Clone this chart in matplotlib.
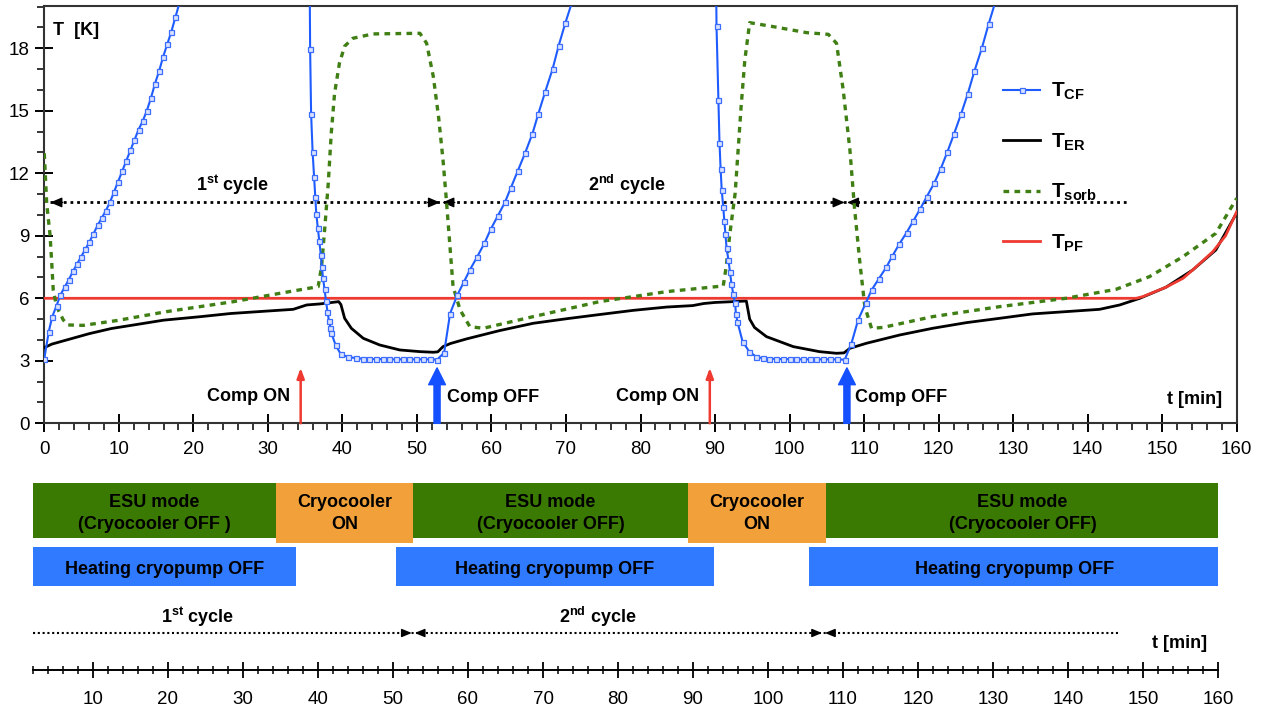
import numpy as np
import matplotlib.pyplot as plt
from matplotlib.ticker import MultipleLocator, FixedLocator

plt.rcParams['font.family'] = ['Liberation Sans', 'DejaVu Sans']
plt.rcParams['mathtext.fontset'] = 'custom'
plt.rcParams['mathtext.rm'] = 'Liberation Sans:bold'
plt.rcParams['mathtext.bf'] = 'Liberation Sans:bold'
plt.rcParams['mathtext.it'] = 'Liberation Sans:bold'

# ---- temperatures (t in min, T in K) ----
# cold finger: rise, fall (off the top in between), plateau, rise ...
t_cf = [0.0, 0.6, 1.05, 1.65, 2.15, 2.75, 3.3, 3.85, 4.4, 4.95, 5.5, 6.05, 6.6, 7.15,
        7.7, 8.25, 8.8, 9.35, 9.9, 10.45, 11.0, 11.55, 12.1, 12.65, 13.2, 13.75, 14.3,
        14.85, 15.4, 15.95, 16.5, 17.05, 17.6, 18.15, 18.7,
        35.62, 35.67, 35.8, 36.0, 36.2, 36.35, 36.5, 36.7, 36.9, 37.1, 37.25, 37.4, 37.6,
        37.8, 38.0, 38.2, 38.4, 38.5, 39.1, 39.8, 40.8, 41.8, 42.7, 43.6, 44.5, 45.4,
        46.3, 47.2, 48.1, 49.0, 49.9, 50.8, 51.8, 52.7,
        53.65, 54.45, 55.4, 56.3, 57.1, 58.1, 59.05, 59.9, 60.85, 61.8, 62.6, 63.5, 64.5,
        65.5, 66.3, 67.2, 68.2, 69.0, 69.9, 70.8, 71.6,
        90.15, 90.2, 90.45, 90.6, 90.75, 90.9, 91.1, 91.25, 91.4, 91.55, 91.8, 92.0, 92.2,
        92.45, 92.7, 92.8, 93.0, 93.7, 94.6, 95.5, 96.4, 97.3, 98.2, 99.1, 100.0, 100.9,
        101.8, 102.7, 103.6, 104.5, 105.4, 106.4, 107.4,
        108.3, 109.2, 110.2, 111.0, 112.0, 113.0, 113.8, 114.7, 115.7, 116.6, 117.5, 118.4,
        119.4, 120.3, 121.15, 122.05, 123.0, 123.9, 124.8, 125.8, 126.7, 127.6, 128.4]
T_cf = [3.1, 4.4, 5.1, 5.65, 6.15, 6.55, 6.9, 7.3, 7.65, 8.0, 8.35, 8.7, 9.1, 9.5,
        9.85, 10.2, 10.6, 11.1, 11.6, 12.1, 12.6, 13.1, 13.6, 14.1, 14.5, 15.0, 15.6,
        16.3, 16.9, 17.6, 18.2, 18.8, 19.5, 20.2, 20.9,
        20.6, 17.95, 14.87, 13.04, 11.83, 10.87, 10.03, 9.39, 8.75, 8.1, 7.5, 6.98, 6.43,
        5.87, 5.34, 4.91, 4.59, 4.35, 3.74, 3.31, 3.18, 3.13, 3.1, 3.09, 3.08, 3.08,
        3.07, 3.07, 3.07, 3.07, 3.07, 3.07, 3.07, 3.05,
        3.39, 5.27, 6.14, 6.78, 7.36, 8.0, 8.64, 9.31, 9.95, 10.6, 11.3, 12.1, 12.96,
        13.9, 14.87, 15.9, 17.0, 18.1, 19.2, 20.2, 21.2,
        21.0, 19.07, 15.52, 13.47, 12.19, 11.19, 10.38, 9.71, 9.07, 8.4, 7.84, 7.26, 6.71,
        6.19, 5.76, 5.27, 4.88, 3.92, 3.44, 3.2, 3.12, 3.1, 3.09, 3.08, 3.08, 3.07,
        3.07, 3.07, 3.07, 3.07, 3.07, 3.07, 3.05,
        3.83, 4.96, 5.76, 6.39, 6.95, 7.5, 8.03, 8.59, 9.15, 9.71, 10.27, 10.87,
        11.52, 12.23, 13.0, 13.87, 14.83, 15.8, 16.9, 18.0, 19.15, 20.2, 21.2]

t_er = [0, 1, 3, 6, 9, 12, 16, 21, 25, 30, 33.4, 35.2, 37, 39.5, 39.8, 40.3, 41.2, 42.8,
        45, 47.7, 50.4, 52.2, 52.8, 53.5, 54.5, 56.65, 61.1, 65.6, 70.1, 74.5, 79, 83.5,
        87, 88.5, 90, 94.2, 94.65, 95.3, 96.9, 100.5, 104, 106.3, 107.3, 108.1, 110.3,
        114.8, 119.2, 123.7, 128.2, 132.6, 137.1, 141.6, 144.3, 147, 150.5, 154.1, 157.2, 160]
T_er = [3.63, 3.8, 4.0, 4.3, 4.55, 4.72, 4.95, 5.12, 5.27, 5.39, 5.47, 5.68, 5.73, 5.84,
        5.7, 5.04, 4.56, 4.08, 3.76, 3.52, 3.44, 3.41, 3.43, 3.68, 3.83, 4.05, 4.45, 4.8,
        5.02, 5.22, 5.42, 5.58, 5.65, 5.75, 5.8, 5.87, 5.0, 4.6, 4.16, 3.68, 3.44, 3.36,
        3.38, 3.6, 3.84, 4.24, 4.56, 4.83, 5.04, 5.25, 5.36, 5.47, 5.68, 6.0, 6.53, 7.36,
        8.32, 10.1]

t_sorb = [0, 0.32, 0.77, 1.0, 1.2, 1.65, 2.55, 3.2, 5.2, 9.7, 16.4, 25.4, 32.1, 36.75,
          37.2, 37.65, 38.1, 38.5, 38.95, 39.6, 40.3, 41.4, 44.1, 50.4, 51.3, 52.2, 52.9,
          53.5, 53.95, 54.4, 54.85, 55.8, 57.1, 58.9, 65.6, 74.5, 83.5, 90.2, 91.1, 91.5,
          92.0, 92.7, 93.1, 93.5, 94.0, 94.65, 97.8, 102.3, 105.2, 106.3, 107.2, 108.1,
          108.7, 109.4, 110.1, 111.0, 112.5, 119.2, 128.2, 137.1, 143.8, 148.3, 152.8,
          157.2, 160]
T_sorb = [12.96, 10.56, 9.04, 7.68, 6.4, 5.6, 4.96, 4.72, 4.7, 4.93, 5.36, 5.84, 6.27,
          6.56, 7.52, 9.44, 11.5, 13.9, 15.84, 17.28, 18.1, 18.48, 18.69, 18.72, 18.24,
          16.64, 14.72, 12.64, 10.72, 8.64, 6.56, 5.44, 4.64, 4.56, 5.12, 5.84, 6.32, 6.56,
          6.59, 7.52, 9.12, 11.04, 13.12, 15.2, 17.44, 19.23, 19.04, 18.75, 18.67, 18.24,
          16.0, 13.12, 10.4, 7.84, 5.6, 4.56, 4.6, 5.12, 5.6, 6.0, 6.43, 7.04, 8.0, 9.12,
          10.8]

t_pf = [0, 146.5, 147.4, 150.5, 152.8, 154.1, 156.8, 158.5, 160]
T_pf = [6.0, 6.0, 6.08, 6.53, 6.96, 7.36, 8.24, 9.0, 10.15]

comp_on = [34.4, 89.3]
comp_off = [52.7, 107.7]
cycle_bounds = [0.8, 53.4, 107.7, 145.7]
cycle_level = 10.6

# ---- operating modes (bottom timeline) ----
mode_start = [2, 34.4, 52.7, 89.3, 107.7]
mode_end = [34.4, 52.7, 89.3, 107.7, 160.2]
mode_kind = ['esu', 'cryo', 'esu', 'cryo', 'esu']
mode_text = ['ESU mode\n(Cryocooler OFF )', 'Cryocooler\nON', 'ESU mode\n(Cryocooler OFF)',
             'Cryocooler\nON', 'ESU mode\n(Cryocooler OFF)']
heat_start = [2, 50.4, 105.5]
heat_end = [37.0, 92.8, 160.2]
bottom_cycle_bounds = [2, 52.7, 107.4, 146.8]

W, H = 1267, 708
fig = plt.figure(figsize=(W / 100, H / 100), dpi=100)

# ================= top: temperatures =================
ax = fig.add_axes([44.3 / W, 1 - 423.3 / H, (1236.7 - 44.3) / W, (423.3 - 6) / H])
ax.plot(t_er, T_er, color='black', lw=2, zorder=3, label=r'$\mathbf{T}_{\mathbf{ER}}$')
ax.plot(t_pf, T_pf, color='#ee3a30', lw=2, zorder=4, label=r'$\mathbf{T}_{\mathbf{PF}}$')
ax.plot(t_sorb, T_sorb, color='#3f7f14', lw=2.4, ls=(0, (1.7, 1.6)), zorder=5,
        label=r'$\mathbf{T}_{\mathbf{sorb}}$')
ax.plot(t_cf, T_cf, color='#1f5cff', lw=1.5, marker='s', ms=3.6, mfc='#d8e2ff',
        mec='#3d6dff', mew=0.9, zorder=6, label=r'$\mathbf{T}_{\mathbf{CF}}$')

ax.set_xlim(0, 160)
ax.set_ylim(0, 20.03)
ax.xaxis.set_major_locator(MultipleLocator(10))
ax.xaxis.set_minor_locator(MultipleLocator(2))
ax.yaxis.set_major_locator(MultipleLocator(3))
ax.yaxis.set_minor_locator(MultipleLocator(1))
ax.tick_params(which='major', direction='inout', length=13, width=1.4, labelsize=13.5, pad=4)
ax.tick_params(axis='x', which='major', pad=6)
ax.tick_params(which='minor', direction='out', length=5, width=1.1)
for s in ax.spines.values():
    s.set_linewidth(1.5)
    s.set_color('#333333')

# cycle markers
ax.plot([cycle_bounds[0], cycle_bounds[-1]], [cycle_level] * 2, color='black', lw=2,
        ls=(0, (1, 1.4)), zorder=2)
head = dict(arrowstyle='-|>,head_width=0.3,head_length=0.7', color='black', lw=1,
            shrinkA=0, shrinkB=0)
for i, x in enumerate(cycle_bounds[:-1]):
    ax.annotate('', xy=(x, cycle_level), xytext=(9, 0), textcoords='offset points', arrowprops=head)
    if i > 0:
        ax.annotate('', xy=(x - 0.3, cycle_level), xytext=(-9, 0), textcoords='offset points',
                    arrowprops=head)
ax.text(25.3, 11.45, r'1$^{\mathrm{st}}$ cycle', fontsize=13, fontweight='bold', ha='center', va='center')
ax.text(78.2, 11.45, r'2$^{\mathrm{nd}}$ cycle', fontsize=13, fontweight='bold', ha='center', va='center')

# compressor arrows
for x in comp_on:
    ax.annotate('', xy=(x, 2.66), xytext=(x, 0), zorder=7,
                arrowprops=dict(arrowstyle='-|>,head_width=0.22,head_length=0.6', color='#ee3a30',
                                lw=1.8, shrinkA=0, shrinkB=0))
for x in comp_off:
    ax.annotate('', xy=(x, 2.66), xytext=(x, 0), zorder=7,
                arrowprops=dict(arrowstyle='simple,head_width=1.1,head_length=1.1,tail_width=0.4',
                                color='#1450ff', mutation_scale=11, shrinkA=0, shrinkB=0))
ax.text(27.4, 1.28, 'Comp ON', fontsize=13, fontweight='bold', ha='center', va='center')
ax.text(82.35, 1.28, 'Comp ON', fontsize=13, fontweight='bold', ha='center', va='center')
ax.text(54.0, 1.25, 'Comp OFF', fontsize=13, fontweight='bold', ha='left', va='center')
ax.text(108.8, 1.25, 'Comp OFF', fontsize=13, fontweight='bold', ha='left', va='center')

ax.text(1.2, 18.85, 'T  [K]', fontsize=13, fontweight='bold', ha='left', va='center')
ax.text(158.1, 1.15, 't [min]', fontsize=13, fontweight='bold', ha='right', va='center')

h, l = ax.get_legend_handles_labels()
order = [3, 0, 2, 1]
ax.legend([h[i] for i in order], [l[i] for i in order], loc='upper left',
          bbox_to_anchor=(0.804, 0.82), frameon=False, fontsize=15, handlelength=1.8,
          handletextpad=0.5, labelspacing=1.4, borderpad=0, borderaxespad=0)

# ================= bottom: timeline =================
ax2 = fig.add_axes([18 / W, 0, 1200 / W, 238 / H])
ax2.set_xlim(0, 160)
ax2.set_ylim(238, 0)
colors = {'esu': '#3b7a02', 'cryo': '#f2a13a'}
for a, b, k, txt in zip(mode_start, mode_end, mode_kind, mode_text):
    hgt = 55.6 if k == 'esu' else 60.6
    ax2.barh(12.7 + hgt / 2, b - a, left=a, height=hgt, color=colors[k], edgecolor='none')
    ax2.text((a + b) / 2, 43.3, txt, fontsize=13, fontweight='bold', ha='center', va='center',
             linespacing=1.4)
for a, b in zip(heat_start, heat_end):
    ax2.barh(96.5, b - a, left=a, height=38.4, color='#2f7aff', edgecolor='none')
    ax2.text((a + b) / 2, 99, 'Heating cryopump OFF', fontsize=13, fontweight='bold',
             ha='center', va='center')

ax2.plot([bottom_cycle_bounds[0], bottom_cycle_bounds[-1]], [163, 163], color='black', lw=1.5,
         ls=(0, (1, 1.3)))
bhead = dict(arrowstyle='-|>,head_width=0.25,head_length=0.6', color='black', lw=1,
             shrinkA=0, shrinkB=0)
for x in bottom_cycle_bounds[1:-1]:
    ax2.annotate('', xy=(x - 0.2, 163), xytext=(-7, 0), textcoords='offset points', arrowprops=bhead)
    ax2.annotate('', xy=(x + 0.2, 163), xytext=(7, 0), textcoords='offset points', arrowprops=bhead)
ax2.text(24, 147, r'1$^{\mathrm{st}}$ cycle', fontsize=13, fontweight='bold', ha='center', va='center')
ax2.text(77.3, 147, r'2$^{\mathrm{nd}}$ cycle', fontsize=13, fontweight='bold', ha='center', va='center')
ax2.text(154.9, 173, 't [min]', fontsize=13, fontweight='bold', ha='center', va='center')

for s in ['top', 'left', 'right']:
    ax2.spines[s].set_visible(False)
ax2.spines['bottom'].set_position(('data', 200))
ax2.spines['bottom'].set_bounds(2, 160)
ax2.spines['bottom'].set_linewidth(1.4)
ax2.xaxis.set_major_locator(FixedLocator(np.arange(10, 161, 10)))
ax2.xaxis.set_minor_locator(FixedLocator(np.arange(2, 161, 2)))
ax2.tick_params(axis='x', which='major', direction='inout', length=12, width=1.3,
                labelsize=13.5, pad=9)
ax2.tick_params(axis='x', which='minor', direction='inout', length=6, width=1.1)
ax2.set_yticks([])
ax2.patch.set_visible(False)

fig.savefig('out.png', dpi=100)
